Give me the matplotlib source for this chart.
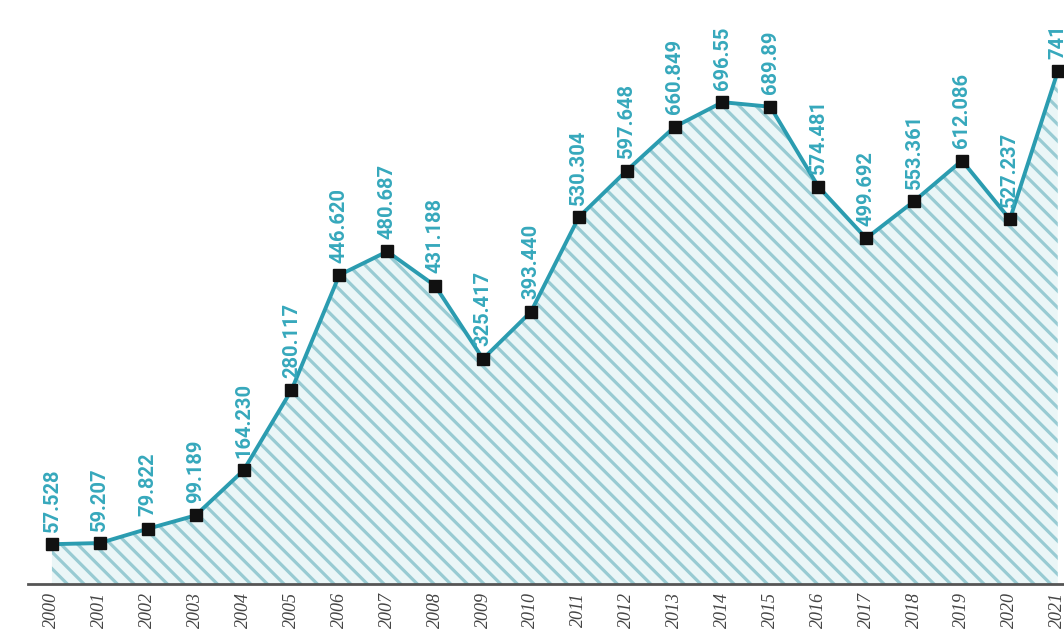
import matplotlib
matplotlib.use("Agg")
import matplotlib.pyplot as plt

# años y valores
years = list(range(2000, 2022))
values = [57.528, 59.207, 79.822, 99.189, 164.230, 280.117, 446.620, 480.687,
          431.188, 325.417, 393.440, 530.304, 597.648, 660.849, 696.55, 689.89,
          574.481, 499.692, 553.361, 612.086, 527.237, 741]
labels = ["57.528", "59.207", "79.822", "99.189", "164.230", "280.117", "446.620",
          "480.687", "431.188", "325.417", "393.440", "530.304", "597.648",
          "660.849", "696.55", "689.89", "574.481", "499.692", "553.361",
          "612.086", "527.237", "741"]

line_color = "#2b9cb0"
hatch_color = "#98cbd3"
text_color = "#36a8bc"

plt.rcParams["hatch.linewidth"] = 2.3
plt.rcParams["hatch.color"] = hatch_color

fig = plt.figure(figsize=(10.64, 6.3), dpi=100)
ax = fig.add_axes([28 / 1064, 46 / 630, 1 - 28 / 1064, (630 - 46 - 14) / 630])

ax.fill_between(years, 0, values, facecolor="#eaf6f7", edgecolor=hatch_color,
                hatch="\\\\", linewidth=0)
ax.plot(years, values, color=line_color, lw=2.8, zorder=3)
ax.plot(years, values, ls="none", marker="s", ms=9, color="#111111", zorder=4)

for x, y, lab in zip(years, values, labels):
    ax.annotate(lab, (x, y), xytext=(0, 9), textcoords="offset points",
                rotation=90, ha="center", va="bottom", fontsize=14.5,
                fontweight="bold", family=["Roboto", "DejaVu Sans"],
                color=text_color, annotation_clip=False)

ax.set_xlim(1999.5, 2021.13)
ax.set_ylim(0, 824)
for s in ["top", "right", "left"]:
    ax.spines[s].set_visible(False)
ax.spines["bottom"].set_color("#555555")
ax.spines["bottom"].set_linewidth(2)
ax.set_yticks([])
ax.set_xticks(years)
ax.set_xticklabels([str(y) for y in years], rotation=90, fontsize=13,
                   family=["Liberation Serif", "DejaVu Serif"], style="italic",
                   color="#444444", va="top")
ax.tick_params(axis="x", length=0, pad=6)

fig.savefig("out.png", dpi=100)
